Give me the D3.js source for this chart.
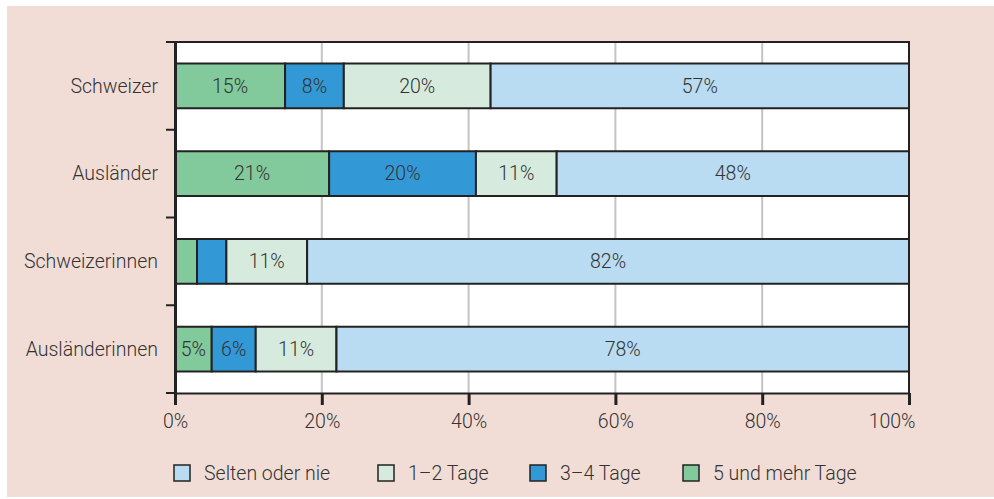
<!DOCTYPE html>
<html>
<head>
<meta charset="utf-8">
<script src="https://cdn.jsdelivr.net/npm/d3@7"></script>
<style>
  body { margin: 0; background: #fff; }
  svg { display: block; font-family: Roboto, 'Liberation Sans', sans-serif; font-weight: 300; }
</style>
</head>
<body>
<div id="draw"></div>
<script>
const groups = ['Schweizer', 'Ausländer', 'Schweizerinnen', 'Ausländerinnen']
const keys = ['five', 'threeFour', 'oneTwo', 'rarely']
const keyLabels = ['5 und mehr Tage', '3–4 Tage', '1–2 Tage', 'Selten oder nie']
const fivePlus = [15, 21, 3, 5]
const threeFour = [8, 20, 4, 6]
const oneTwo = [20, 11, 11, 11]
const rarely = [57, 48, 82, 78]
const xTicks = [0, 20, 40, 60, 80, 100]

const colors = ['#82c99b', '#3399d6', '#d6ebde', '#badcf2']
const legendOrder = [3, 2, 1, 0]
const fontSize = 19.5

let margin = { top: 42, right: 85, bottom: 106, left: 175 }
let width = 994 - margin.left - margin.right
let height = 499 - margin.top - margin.bottom

let rows = groups.map(function (g, i) {
  return { group: g, five: fivePlus[i], threeFour: threeFour[i], oneTwo: oneTwo[i], rarely: rarely[i] }
})

let svg0 = d3.select('#draw')
  .append('svg')
  .attr('width', 994)
  .attr('height', 499)

svg0.append('rect')
  .attr('x', 7)
  .attr('y', 6)
  .attr('width', 987)
  .attr('height', 491)
  .attr('fill', '#f1ddd5')

let svg = svg0.append('g')
  .attr('transform', 'translate(' + margin.left + ',' + margin.top + ')')

svg.append('rect')
  .attr('width', width)
  .attr('height', height)
  .attr('fill', '#fff')

let xScale = d3.scaleLinear().domain([0, 100]).range([0, width])
let yScale = d3.scaleBand().domain(groups).range([0, height]).paddingInner(0.49).paddingOuter(0.245)

// grid
svg.append('g')
  .selectAll('line')
  .data(xTicks.slice(1, -1))
  .enter().append('line')
  .attr('x1', function (d) { return xScale(d) })
  .attr('x2', function (d) { return xScale(d) })
  .attr('y1', 0)
  .attr('y2', height)
  .attr('stroke', '#c4c4c4')
  .attr('stroke-width', 2)

let series = d3.stack().keys(keys)(rows)

let layer = svg.selectAll('.layer')
  .data(series)
  .enter().append('g')
  .attr('class', 'layer')
  .attr('fill', function (d, i) { return colors[i] })

layer.selectAll('rect')
  .data(function (d) { return d })
  .enter().append('rect')
  .attr('x', function (d) { return xScale(d[0]) })
  .attr('y', function (d) { return yScale(d.data.group) })
  .attr('width', function (d) { return xScale(d[1]) - xScale(d[0]) })
  .attr('height', yScale.bandwidth())
  .attr('stroke', '#222')
  .attr('stroke-width', 2)

layer.selectAll('text')
  .data(function (d) { return d.filter(function (p) { return p[1] - p[0] >= 5 }) })
  .enter().append('text')
  .attr('x', function (d) { return (xScale(d[0]) + xScale(d[1])) / 2 })
  .attr('y', function (d) { return yScale(d.data.group) + yScale.bandwidth() / 2 })
  .attr('dy', '0.35em')
  .attr('text-anchor', 'middle')
  .attr('fill', '#333')
  .style('font-size', fontSize + 'px')
  .text(function (d) { return (d[1] - d[0]) + '%' })

// frame top/right
svg.append('path')
  .attr('d', 'M0,0H' + width + 'V' + height)
  .attr('fill', 'none')
  .attr('stroke', '#222')
  .attr('stroke-width', 2)

let xAxis = d3.axisBottom(xScale).tickValues(xTicks).tickFormat(function (d) { return d + '%' })
  .tickSize(12).tickSizeOuter(0).tickPadding(9)

let gx = svg.append('g')
  .attr('class', 'x axis')
  .attr('transform', 'translate(0,' + height + ')')
  .call(xAxis)
  .attr('font-family', null)
  .attr('font-size', fontSize)
gx.select('.domain').attr('stroke', '#222').attr('stroke-width', 2)
gx.selectAll('.tick line').attr('stroke', '#222').attr('stroke-width', 3)
gx.selectAll('text').attr('fill', '#333')
// last label is kept inside the frame
gx.selectAll('.tick text').filter(function (d) { return d === 100 })
  .attr('text-anchor', 'end')
  .attr('dx', 6)

let yAxis = d3.axisLeft(yScale).tickSize(0).tickPadding(17)
let gy = svg.append('g')
  .attr('class', 'y axis')
  .call(yAxis)
  .attr('font-family', null)
  .attr('font-size', fontSize)
gy.select('.domain').attr('stroke', '#222').attr('stroke-width', 3)
gy.selectAll('text').attr('dy', '0.35em').attr('fill', '#333')

// ticks between categories
let bounds = [0].concat(groups.map(function (g) { return yScale(g) + yScale.bandwidth() + yScale.step() * 0.245 }))
gy.selectAll('.sep')
  .data(bounds)
  .enter().append('line')
  .attr('class', 'sep')
  .attr('x1', -9)
  .attr('x2', 0)
  .attr('y1', function (d) { return d })
  .attr('y2', function (d) { return d })
  .attr('stroke', '#222')
  .attr('stroke-width', 2)

// legend
let legendX = [174, 378, 530, 683]
let legend = svg0.selectAll('.legend')
  .data(legendOrder)
  .enter().append('g')
  .attr('class', 'legend')
  .attr('transform', function (d, i) { return 'translate(' + legendX[i] + ',465)' })

legend.append('rect')
  .attr('width', 16)
  .attr('height', 16)
  .attr('fill', function (d) { return colors[d] })
  .attr('stroke', '#222')
  .attr('stroke-width', 1.5)

legend.append('text')
  .attr('x', 30)
  .attr('y', 8)
  .attr('dy', '0.35em')
  .attr('fill', '#333')
  .style('font-size', fontSize + 'px')
  .text(function (d) { return keyLabels[d] })
</script>
</body>
</html>
